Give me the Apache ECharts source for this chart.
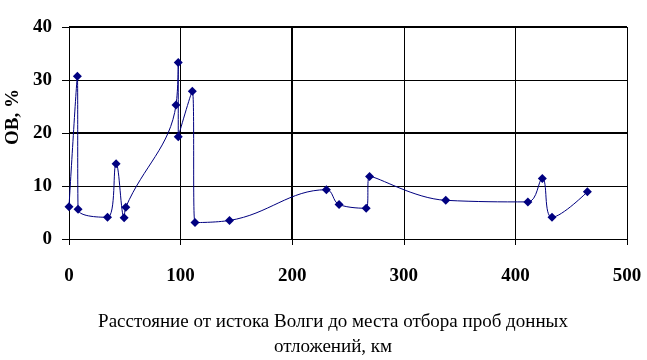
<!DOCTYPE html>
<html><head><meta charset="utf-8">
<script src="https://cdn.jsdelivr.net/npm/echarts@6/dist/echarts.min.js"></script>
<style>html,body{margin:0;padding:0;background:#fff}#c{width:647px;height:360px}</style>
</head><body><div id="c"></div>
<script>
const distanceKm = [0, 7.5, 8.1, 34.5, 42.2, 49.4, 50.9, 95.9, 97.9, 97.9, 110.5, 112.9, 143.8, 230.6, 242, 266.3, 269.3, 337.6, 411.2, 424.1, 432.8, 464.5];
const obPercent  = [6.1, 30.7, 5.6, 4.1, 14.2, 4.0, 6.0, 25.3, 33.3, 19.3, 27.9, 3.1, 3.5, 9.3, 6.5, 5.8, 11.8, 7.3, 7.0, 11.4, 4.1, 8.9];
const yTicks = [0, 10, 20, 30, 40];
const xTicks = [0, 100, 200, 300, 400, 500];
const yTitle = 'ОВ, %';
const xTitle = 'Расстояние от истока Волги до места отбора проб донных\nотложений, км';

const font = '"Liberation Serif", "Times New Roman", serif';
const chart = echarts.init(document.getElementById('c'), null, {renderer: 'canvas'});
chart.setOption({
  animation: false,
  backgroundColor: '#fff',
  grid: {left: 69, right: 20, top: 27, bottom: 121, containLabel: false, outerBoundsMode: 'none'},
  title: {
    text: xTitle, left: 328, top: 305, textAlign: 'center',
    textStyle: {fontFamily: font, fontSize: 19, fontWeight: 'normal', color: '#000', lineHeight: 25}
  },
  graphic: [{
    type: 'text', x: 13, y: 117, rotation: Math.PI / 2,
    style: {text: yTitle, fontFamily: font, fontSize: 19, fontWeight: 'bold', fill: '#000', align: 'center', verticalAlign: 'middle'}
  }],
  xAxis: {
    type: 'value', min: xTicks[0], max: xTicks[xTicks.length - 1], interval: 100,
    axisLine: {show: true, onZero: false, lineStyle: {color: '#000', width: 1}},
    axisTick: {show: true, inside: false, length: 6, lineStyle: {color: '#000'}},
    axisLabel: {margin: 28, fontFamily: font, fontSize: 19, color: '#000', fontWeight: 'bold'},
    splitLine: {show: true, lineStyle: {color: '#000', width: 1}}
  },
  yAxis: {
    type: 'value', min: yTicks[0], max: yTicks[yTicks.length - 1], interval: 10,
    axisLine: {show: true, lineStyle: {color: '#000', width: 1}},
    axisTick: {show: true, inside: false, length: 7, lineStyle: {color: '#000'}},
    axisLabel: {margin: 17, fontFamily: font, fontSize: 19, color: '#000', fontWeight: 'bold'},
    splitLine: {show: true, lineStyle: {color: '#000', width: 1}}
  },
  series: [{
    type: 'line',
    data: distanceKm.map((d, i) => [d, obPercent[i]]),
    smooth: 0.4,
    symbol: 'diamond', symbolSize: 9,
    itemStyle: {color: '#000080'},
    lineStyle: {color: '#000080', width: 1},
    markLine: {
      silent: true, symbol: 'none', label: {show: false},
      lineStyle: {color: '#000', width: 2, type: 'solid'},
      data: [{yAxis: 20}, {yAxis: 40}, {xAxis: 200}]
    },
    z: 5
  }]
});
</script></body></html>
